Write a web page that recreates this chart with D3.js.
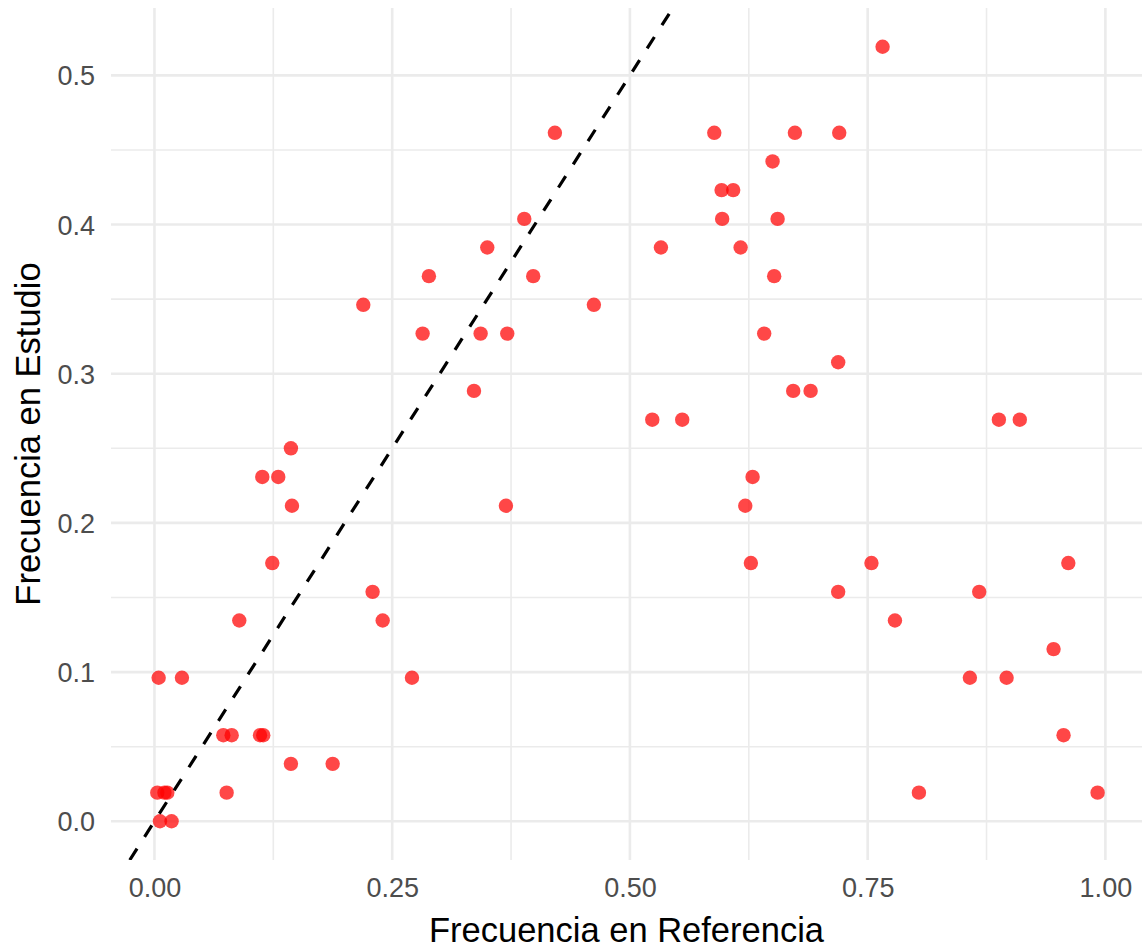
<!DOCTYPE html>
<html>
<head>
<meta charset="utf-8">
<script src="https://cdn.jsdelivr.net/npm/d3@7"></script>
<style>
  html, body { margin: 0; padding: 0; background: #ffffff; }
  svg { display: block; font-family: "Liberation Sans", Arial, Helvetica, sans-serif; }
</style>
</head>
<body>
<svg id="chart" width="1142" height="951"></svg>
<script>
// Relative frequency of each item in the reference corpus vs. the study sample
const freqReferencia = [
  0.7657, 0.4211, 0.5887, 0.6735, 0.7201, 0.6500, 0.5964, 0.6086, 0.3889, 0.5970,
  0.6553, 0.3500, 0.5326, 0.6164, 0.2886, 0.3983, 0.6517, 0.2196, 0.4621, 0.2820,
  0.3430, 0.3710, 0.6412, 0.7190, 0.3360, 0.6717, 0.6900, 0.5235, 0.5550, 0.8880,
  0.9100, 0.1435, 0.1134, 0.1302, 0.6290, 0.1446, 0.3696, 0.6213, 0.1239, 0.6272,
  0.7540, 0.9610, 0.2294, 0.7190, 0.8673, 0.0892, 0.2400, 0.7787, 0.9455, 0.0044,
  0.0289, 0.2708, 0.8575, 0.8961, 0.0724, 0.0812, 0.1110, 0.1144, 0.9560, 0.1435,
  0.1874, 0.0030, 0.0105, 0.0135, 0.0759, 0.8039, 0.9918, 0.0058, 0.0180
];
const freqEstudio = [
  0.5192, 0.4615, 0.4615, 0.4615, 0.4615, 0.4423, 0.4231, 0.4231, 0.4038, 0.4038,
  0.4038, 0.3846, 0.3846, 0.3846, 0.3654, 0.3654, 0.3654, 0.3462, 0.3462, 0.3269,
  0.3269, 0.3269, 0.3269, 0.3077, 0.2885, 0.2885, 0.2885, 0.2692, 0.2692, 0.2692,
  0.2692, 0.2500, 0.2308, 0.2308, 0.2308, 0.2115, 0.2115, 0.2115, 0.1731, 0.1731,
  0.1731, 0.1731, 0.1538, 0.1538, 0.1538, 0.1346, 0.1346, 0.1346, 0.1154, 0.0962,
  0.0962, 0.0962, 0.0962, 0.0962, 0.0577, 0.0577, 0.0577, 0.0577, 0.0577, 0.0385,
  0.0385, 0.0192, 0.0192, 0.0192, 0.0192, 0.0192, 0.0192, 0.0000, 0.0000
];

const xMajorTicks = [0, 0.25, 0.5, 0.75, 1.0];
const xMinorTicks = [0.125, 0.375, 0.625, 0.875];
const yMajorTicks = [0, 0.1, 0.2, 0.3, 0.4, 0.5];
const yMinorTicks = [0.05, 0.15, 0.25, 0.35, 0.45];
const xTickLabels = ["0.00", "0.25", "0.50", "0.75", "1.00"];
const yTickLabels = ["0.0", "0.1", "0.2", "0.3", "0.4", "0.5"];

const xTitle = "Frecuencia en Referencia";
const yTitle = "Frecuencia en Estudio";

const svg = d3.select("#chart");
const panel = { left: 111, right: 1142, top: 8, bottom: 860 };

// Axis limits: data range plus 5% padding on each side
function padded(values) {
  const [lo, hi] = d3.extent(values);
  const pad = (hi - lo) * 0.05;
  return [lo - pad, hi + pad];
}

const x = d3.scaleLinear()
  .domain([-0.0457, 1.0385])
  .range([panel.left, panel.right]);
const y = d3.scaleLinear()
  .domain(padded(freqEstudio))
  .range([panel.bottom, panel.top]);

const grid = svg.append("g").attr("class", "grid");

// Minor grid lines
grid.selectAll("line.xminor").data(xMinorTicks).join("line")
  .attr("x1", d => x(d)).attr("x2", d => x(d))
  .attr("y1", panel.top).attr("y2", panel.bottom)
  .attr("stroke", "#ebebeb").attr("stroke-width", 1.6);
grid.selectAll("line.yminor").data(yMinorTicks).join("line")
  .attr("y1", d => y(d)).attr("y2", d => y(d))
  .attr("x1", panel.left).attr("x2", panel.right)
  .attr("stroke", "#ebebeb").attr("stroke-width", 1.6);

// Major grid lines
grid.selectAll("line.xmajor").data(xMajorTicks).join("line")
  .attr("x1", d => x(d)).attr("x2", d => x(d))
  .attr("y1", panel.top).attr("y2", panel.bottom)
  .attr("stroke", "#ebebeb").attr("stroke-width", 2.6);
grid.selectAll("line.ymajor").data(yMajorTicks).join("line")
  .attr("y1", d => y(d)).attr("y2", d => y(d))
  .attr("x1", panel.left).attr("x2", panel.right)
  .attr("stroke", "#ebebeb").attr("stroke-width", 2.6);

// Axes (labels only, no domain or tick marks)
const xAxis = d3.axisBottom(x)
  .tickValues(xMajorTicks)
  .tickFormat((d, i) => xTickLabels[i])
  .tickSize(0).tickPadding(0);
const gx = svg.append("g")
  .attr("transform", `translate(0,${panel.bottom})`)
  .call(xAxis);
gx.select(".domain").remove();
gx.selectAll("text")
  .attr("y", 37).attr("dy", null)
  .attr("fill", "#4d4d4d")
  .style("font-size", "27px")
  .style("font-family", "'Liberation Sans', Arial, sans-serif");

const yAxis = d3.axisLeft(y)
  .tickValues(yMajorTicks)
  .tickFormat((d, i) => yTickLabels[i])
  .tickSize(0).tickPadding(0);
const gy = svg.append("g")
  .attr("transform", `translate(${panel.left},0)`)
  .call(yAxis);
gy.select(".domain").remove();
gy.selectAll("text")
  .attr("x", -16).attr("dy", "0.35em")
  .attr("fill", "#4d4d4d")
  .style("font-size", "27px")
  .style("font-family", "'Liberation Sans', Arial, sans-serif");

// Points
const pts = freqReferencia.map((v, i) => ({ ref: v, est: freqEstudio[i] }));
svg.append("g").selectAll("circle").data(pts).join("circle")
  .attr("cx", d => x(d.ref))
  .attr("cy", d => y(d.est))
  .attr("r", 7.2)
  .attr("fill", "#ff0000")
  .attr("fill-opacity", 0.72);

// Identity reference line y = x, clipped to the panel
svg.append("clipPath").attr("id", "panelClip")
  .append("rect")
  .attr("x", panel.left).attr("y", panel.top)
  .attr("width", panel.right - panel.left)
  .attr("height", panel.bottom - panel.top);
const lineEnds = [y.domain()[0], y.domain()[1]];
svg.append("line")
  .attr("clip-path", "url(#panelClip)")
  .attr("x1", x(lineEnds[0])).attr("y1", y(lineEnds[0]))
  .attr("x2", x(lineEnds[1])).attr("y2", y(lineEnds[1]))
  .attr("stroke", "#000000")
  .attr("stroke-width", 3.2)
  .attr("stroke-dasharray", "13.5,14");

// Axis titles
svg.append("text")
  .attr("x", (panel.left + panel.right) / 2)
  .attr("y", 942)
  .attr("text-anchor", "middle")
  .attr("fill", "#000000")
  .style("font-size", "34.5px")
  .text(xTitle);

svg.append("text")
  .attr("transform", `translate(40,${(panel.top + panel.bottom) / 2}) rotate(-90)`)
  .attr("text-anchor", "middle")
  .attr("fill", "#000000")
  .style("font-size", "34.5px")
  .text(yTitle);
</script>
</body>
</html>
